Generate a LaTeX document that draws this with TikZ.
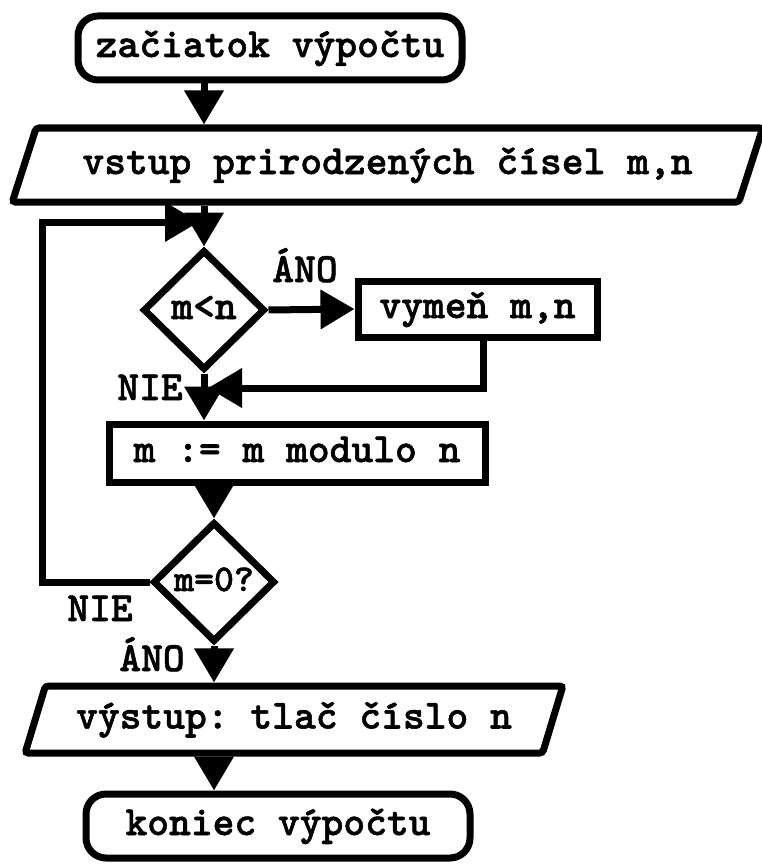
\documentclass[tikz,border=0pt]{standalone}
\usepackage{fontspec}
\setmonofont{lmmonolt10-bold.otf}[FakeBold=1.3]
\usetikzlibrary{shapes.geometric,arrows.meta}

\begin{document}
\begin{tikzpicture}[x=1pt,y=-1pt,line width=7pt,
  every node/.style={font=\ttfamily\fontsize{41.5}{44}\selectfont,
    inner sep=0pt, text height=26pt, text depth=8pt},
  term/.style={draw, rounded corners=20pt, minimum width=384pt, minimum height=64pt},
  io/.style={draw, trapezium, trapezium stretches=true, rounded corners=3pt},
  proc/.style={draw, rectangle},
  dec/.style={draw, diamond, minimum width=122pt, minimum height=120pt},
  arr/.style={-{Triangle[length=34pt,width=38pt]}},
  lbl/.style={}]
\useasboundingbox (0,0) rectangle (761,864);

% blocks
\node[term] (start) at (270,48) {začiatok výpočtu};
\node[io, trapezium left angle=58.7, trapezium right angle=121.3,
      minimum width=755pt, minimum height=74pt] (in) at (387.5,165)
      {vstup prirodzených čísel m,n};
\node[dec] (d1) at (204,310) {m<n};
\node[proc, minimum width=239pt, minimum height=56pt] (swap) at (477.5,309) {vymeň m,n};
\node[proc, minimum width=376pt, minimum height=58pt] (mod) at (297,453) {m := m modulo n};
\node[dec, font=\ttfamily\fontsize{38}{40}\selectfont] (d2) at (214,582) {m=0?};
\node[io, trapezium left angle=62.4, trapezium right angle=117.6,
      minimum width=538pt, minimum height=67pt] (out) at (294,719.5)
      {výstup: tlač číslo n};
\node[term] (end) at (278,826) {koniec výpočtu};

% junction points
\coordinate (merge) at (208,388);
\coordinate (loopc) at (42,222);
\coordinate (loopin) at (199,222);

% connectors
\draw[arr] (d1.north |- start.south) -- (d1.north |- in.north);
\draw[arr] (d1.north |- in.south) -- (d1.north);
\draw[arr] (d1.east) -- (swap.west);
\draw[arr] ([xshift=5.5pt]swap.south) |- (merge);
\draw[arr] (d1.south) -- (d1.south |- mod.north);
\draw[arr] (d2.north |- mod.south) -- (d2.north);
\draw[arr] (d2.west) -| (loopc) -- (loopin);
\draw[arr] (d2.south) -- (d2.south |- out.north);
\draw[arr] (d2.south |- out.south) -- (d2.south |- end.north);

% branch labels
\node[lbl] (yes1) at (305,273) {ÁNO};
\node[lbl] (no1) at (150,391) {NIE};
\node[lbl] (no2) at (100,612) {NIE};
\node[lbl] (yes2) at (152,662) {ÁNO};
\end{tikzpicture}
\end{document}
